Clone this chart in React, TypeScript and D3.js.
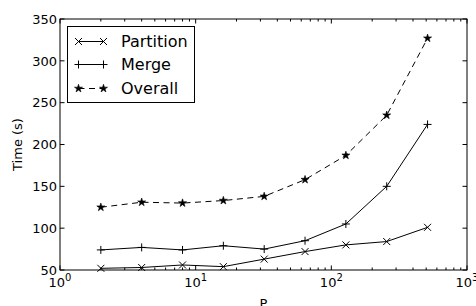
import React from "react";
import * as d3 from "d3";

const procs = [2, 4, 8, 16, 32, 64, 128, 256, 512];
const partition = [52, 53, 56, 54, 63, 72, 80, 84, 101];
const merge = [74, 77, 74, 79, 75, 85, 105, 150, 224];
const overall = [125, 131, 130, 133, 138, 158, 187, 235, 327];
const yTicks = [50, 100, 150, 200, 250, 300, 350];
const xMajor = [1, 10, 100, 1000];
const seriesNames = ["Partition", "Merge", "Overall"];

const W = 476, H = 306;
const L = 60, R = 467, T = 19, B = 270;
const FONT = "DejaVu Sans, sans-serif";

function Marker({ kind, x, y }: { kind: string; x: number; y: number }) {
  if (kind === "x") {
    const s = 3.5;
    return (
      <path d={`M${x - s},${y - s}L${x + s},${y + s}M${x - s},${y + s}L${x + s},${y - s}`} stroke="#000" strokeWidth={1} fill="none" />
    );
  }
  if (kind === "+") {
    const s = 4;
    return <path d={`M${x - s},${y}L${x + s},${y}M${x},${y - s}L${x},${y + s}`} stroke="#000" strokeWidth={1} fill="none" />;
  }
  const star = d3.symbol().type(d3.symbolStar).size(20)();
  return <path d={star || ""} transform={`translate(${x},${y})`} fill="#000" stroke="#000" strokeWidth={0.6} />;
}

export default function App() {
  const x = d3.scaleLog().domain([1, 1000]).range([L, R]);
  const y = d3.scaleLinear().domain([50, 350]).range([B, T]);
  const line = d3
    .line<[number, number]>()
    .x((d) => x(d[0]))
    .y((d) => y(d[1]));
  const series = [
    { name: seriesNames[0], vals: partition, marker: "x", dash: undefined as string | undefined },
    { name: seriesNames[1], vals: merge, marker: "+", dash: undefined },
    { name: seriesNames[2], vals: overall, marker: "*", dash: "6,4.5" },
  ];
  const minor: number[] = [];
  for (let e = 0; e < 3; e++) for (let k = 2; k <= 9; k++) minor.push(k * Math.pow(10, e));

  const legY = [41.5, 64.5, 88.5];
  return (
    <svg width={W} height={H} style={{ position: "absolute", left: 0, top: 0, background: "#fff" }} fontFamily={FONT}>
      <rect x={0} y={0} width={W} height={H} fill="#fff" />
      {series.map((s) => (
        <g key={s.name}>
          <path
            d={line(procs.map((p, i) => [p, s.vals[i]] as [number, number])) || ""}
            fill="none"
            stroke="#000"
            strokeWidth={1}
            strokeDasharray={s.dash}
          />
          {procs.map((p, i) => (
            <Marker key={i} kind={s.marker} x={x(p)} y={y(s.vals[i])} />
          ))}
        </g>
      ))}
      {/* ticks */}
      {xMajor.map((v) => (
        <g key={v}>
          <line x1={x(v)} x2={x(v)} y1={B} y2={B - 4.5} stroke="#000" />
          <line x1={x(v)} x2={x(v)} y1={T} y2={T + 4.5} stroke="#000" />
          <text x={x(v)} y={287} textAnchor="middle" fontSize={13}>
            10
            <tspan dy={-6} fontSize={10}>
              {Math.round(Math.log10(v))}
            </tspan>
          </text>
        </g>
      ))}
      {minor.map((v) => (
        <g key={"m" + v}>
          <line x1={x(v)} x2={x(v)} y1={B} y2={B - 2.5} stroke="#000" />
          <line x1={x(v)} x2={x(v)} y1={T} y2={T + 2.5} stroke="#000" />
        </g>
      ))}
      {yTicks.map((v) => (
        <g key={"y" + v}>
          <line x1={L} x2={L + 4.5} y1={y(v)} y2={y(v)} stroke="#000" />
          <line x1={R} x2={R - 4.5} y1={y(v)} y2={y(v)} stroke="#000" />
          <text x={L - 3} y={y(v)} dy="0.36em" textAnchor="end" fontSize={13}>
            {v}
          </text>
        </g>
      ))}
      <rect x={L} y={T} width={R - L} height={B - T} fill="none" stroke="#000" strokeWidth={1} />
      <text x={(L + R) / 2} y={308} textAnchor="middle" fontSize={13}>
        P
      </text>
      <text transform={`translate(22,${(T + B) / 2}) rotate(-90)`} textAnchor="middle" fontSize={13}>
        Time (s)
      </text>
      {/* legend */}
      <rect x={67.5} y={26.5} width={127} height={76} fill="#fff" stroke="#000" strokeWidth={1} />
      {series.map((s, i) => (
        <g key={"l" + s.name}>
          <line x1={78.5} x2={103.5} y1={legY[i]} y2={legY[i]} stroke="#000" strokeDasharray={s.dash} />
          <Marker kind={s.marker} x={78.5} y={legY[i]} />
          <Marker kind={s.marker} x={103.5} y={legY[i]} />
          <text x={121} y={legY[i]} dy="0.36em" fontSize={16}>
            {s.name}
          </text>
        </g>
      ))}
    </svg>
  );
}
